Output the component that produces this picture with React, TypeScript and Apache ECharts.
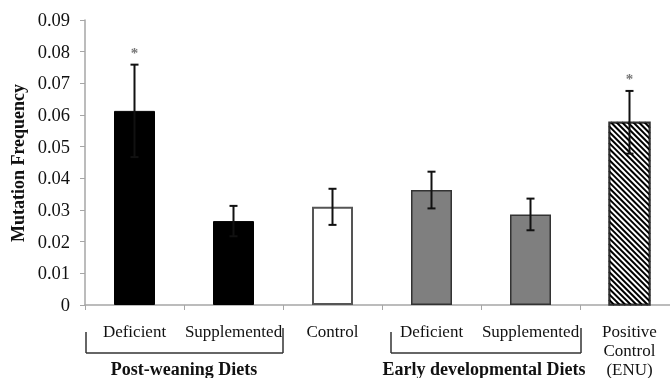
import React, { useEffect, useRef } from "react";
import * as echarts from "echarts";

const categories = ["Deficient", "Supplemented", "Control", "Deficient", "Supplemented", "Positive\nControl\n(ENU)"];
const meanValues = [0.0613, 0.0265, 0.0310, 0.0363, 0.0286, 0.0577];
const errorValues = [0.0146, 0.0048, 0.0057, 0.0058, 0.0050, 0.0099];
const significant = [true, false, false, false, false, true];
const yTicks = [0, 0.01, 0.02, 0.03, 0.04, 0.05, 0.06, 0.07, 0.08, 0.09];
const groupLabels = ["Post-weaning Diets", "Early developmental Diets"];

const FONT = '"Liberation Serif", "Times New Roman", serif';
const BAR_W = 41;

const barStyles: any[] = [
  { color: "#000", borderColor: "#000", borderWidth: 1 },
  { color: "#000", borderColor: "#000", borderWidth: 1 },
  { color: "#fff", borderColor: "#555", borderWidth: 2 },
  { color: "#7f7f7f", borderColor: "#333", borderWidth: 1.5 },
  { color: "#7f7f7f", borderColor: "#333", borderWidth: 1.5 },
  { color: "#fff", borderColor: "#333", borderWidth: 1.5, hatch: true },
];

export default function App() {
  const ref = useRef<HTMLDivElement>(null);
  useEffect(() => {
    if (!ref.current) return;
    const chart = echarts.init(ref.current, undefined, { renderer: "svg" });
    const lineStyle = { stroke: "#333", lineWidth: 1.5 };
    const bracket = (x1: number, x2: number) => [
      { type: "line", shape: { x1, y1: 332, x2: x1, y2: 353 }, style: lineStyle },
      { type: "line", shape: { x1, y1: 353, x2, y2: 353 }, style: lineStyle },
      { type: "line", shape: { x1: x2, y1: 328, x2, y2: 353 }, style: lineStyle },
    ];
    chart.setOption({
      animation: false,
      textStyle: { fontFamily: FONT },
      grid: { left: 85, right: -9, top: 20, bottom: 73, containLabel: false, outerBoundsMode: "none" },
      xAxis: {
        type: "category",
        data: categories,
        axisLine: { lineStyle: { color: "#a6a6a6", width: 1.5 } },
        axisTick: { show: true, length: 5, lineStyle: { color: "#a6a6a6" } },
        axisLabel: {
          color: "#111",
          fontSize: 17,
          fontFamily: FONT,
          lineHeight: 19,
          margin: 17,
          interval: 0,
          hideOverlap: false,
        },
      },
      yAxis: {
        type: "value",
        min: 0,
        max: 0.09,
        interval: 0.01,
        splitLine: { show: false },
        axisLine: { show: true, lineStyle: { color: "#a6a6a6", width: 1.5 } },
        axisTick: { show: true, length: 5, lineStyle: { color: "#a6a6a6" } },
        axisLabel: {
          color: "#111",
          fontSize: 18.5,
          fontFamily: FONT,
          margin: 15,
          formatter: (v: number) => {
            const t = yTicks.find((k) => Math.abs(k - v) < 1e-9);
            const val = t === undefined ? v : t;
            return val === 0 ? "0" : val.toFixed(2);
          },
        },
      },
      series: [
        {
          type: "bar",
          barWidth: BAR_W,
          data: meanValues.map((v, i) => ({
            value: v,
            itemStyle: { color: barStyles[i].color, borderColor: barStyles[i].borderColor, borderWidth: barStyles[i].borderWidth },
          })),
          z: 2,
        },
        {
          type: "custom",
          z: 5,
          data: meanValues.map((v, i) => [i, v, errorValues[i], significant[i] ? 1 : 0]),
          renderItem: (params: any, api: any) => {
            const idx = api.value(0);
            const m = api.value(1);
            const e = api.value(2);
            const sig = api.value(3);
            const top = api.coord([idx, m + e]);
            const bot = api.coord([idx, m - e]);
            const children: any[] = [];
            const bs = barStyles[idx];
            if (bs && bs.hatch) {
              const barTop = api.coord([idx, m]);
              const base = api.coord([idx, 0]);
              const x0 = barTop[0] - BAR_W / 2;
              const x1 = barTop[0] + BAR_W / 2;
              const y0 = barTop[1];
              const y1 = base[1];
              const period = 5.6;
              for (let c = y0 - x1; c <= y1 - x0; c += period) {
                const xa = Math.max(x0, y0 - c);
                const xb = Math.min(x1, y1 - c);
                if (xb > xa) {
                  children.push({
                    type: "line",
                    shape: { x1: xa, y1: xa + c, x2: xb, y2: xb + c },
                    style: { stroke: "#000", lineWidth: 2 },
                  });
                }
              }
              children.push({
                type: "rect",
                shape: { x: x0, y: y0, width: BAR_W, height: y1 - y0 },
                style: { fill: "none", stroke: bs.borderColor, lineWidth: bs.borderWidth },
              });
            }
            const cw = 4;
            const st = { stroke: "#111", lineWidth: 2 };
            children.push(
              { type: "line", shape: { x1: top[0], y1: top[1], x2: bot[0], y2: bot[1] }, style: st },
              { type: "line", shape: { x1: top[0] - cw, y1: top[1], x2: top[0] + cw, y2: top[1] }, style: st },
              { type: "line", shape: { x1: bot[0] - cw, y1: bot[1], x2: bot[0] + cw, y2: bot[1] }, style: st }
            );
            if (sig) {
              children.push({
                type: "text",
                style: {
                  text: "*",
                  x: top[0],
                  y: top[1] - 12,
                  align: "center",
                  verticalAlign: "middle",
                  fill: "#777",
                  font: `bold 15px ${FONT}`,
                },
              });
            }
            return { type: "group", children };
          },
        },
      ],
      graphic: [
        {
          type: "text",
          x: 18,
          y: 163,
          rotation: Math.PI / 2,
          style: {
            text: "Mutation Frequency",
            font: `bold 18px ${FONT}`,
            fill: "#111",
            align: "center",
            verticalAlign: "middle",
          },
        },
        ...bracket(86, 283),
        ...bracket(391, 581),
        {
          type: "text",
          x: 184,
          y: 369,
          style: { text: groupLabels[0], font: `bold 18px ${FONT}`, fill: "#111", align: "center", verticalAlign: "middle" },
        },
        {
          type: "text",
          x: 484,
          y: 369,
          style: { text: groupLabels[1], font: `bold 18px ${FONT}`, fill: "#111", align: "center", verticalAlign: "middle" },
        },
      ],
    });
    return () => chart.dispose();
  }, []);
  return <div ref={ref} style={{ position: "fixed", left: 0, top: 0, width: 670, height: 378 }} />;
}
